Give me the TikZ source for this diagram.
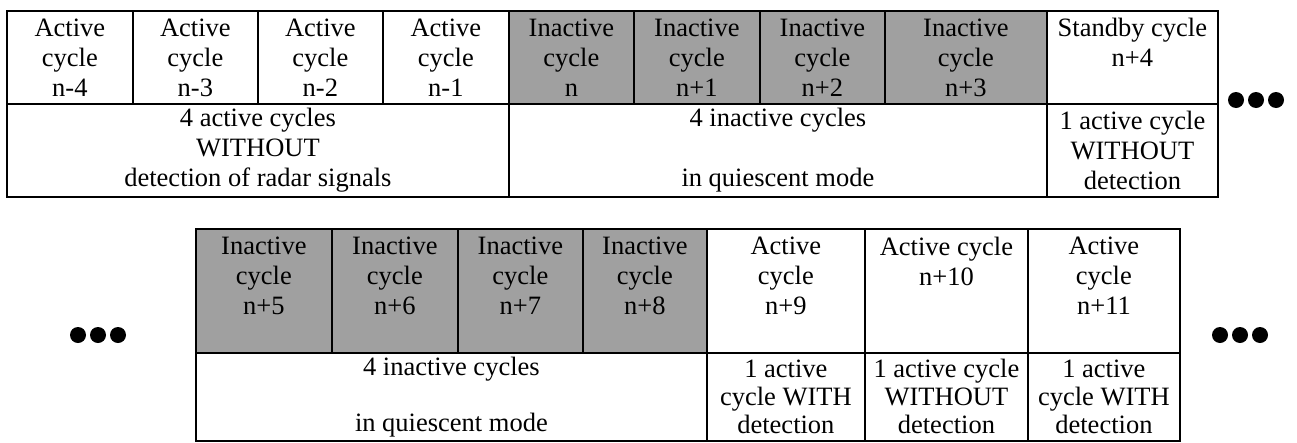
\documentclass[tikz,border=0pt]{standalone}
\usepackage{fontspec}
\setmainfont{Liberation Serif}
\definecolor{idlegray}{RGB}{160,160,160}
\tikzset{
  cell/.style={draw, line width=1.8pt, inner sep=0pt, anchor=north west,
    align=center, font=\fontsize{26.5}{30}\selectfont},
  tight/.style={cell, font=\fontsize{26.5}{28}\selectfont},
  idle/.style={cell, fill=idlegray},
  dot/.style={fill=black}
}
\begin{document}
\begin{tikzpicture}[x=1pt, y=-1pt]
  \useasboundingbox (0,0) rectangle (1297,442);

  % Upper table, cycles n-4 .. n+4
  \node[cell, minimum width=126pt, minimum height=93pt] (a4) at (6,10) {Active\\cycle\\n-4};
  \node[cell, minimum width=125pt, minimum height=93pt] (a3) at (132,10) {Active\\cycle\\n-3};
  \node[cell, minimum width=125pt, minimum height=93pt] (a2) at (257,10) {Active\\cycle\\n-2};
  \node[cell, minimum width=126pt, minimum height=93pt] (a1) at (382,10) {Active\\cycle\\n-1};
  \node[idle, minimum width=125pt, minimum height=93pt] (i0) at (508,10) {Inactive\\cycle\\n};
  \node[idle, minimum width=126pt, minimum height=93pt] (i1) at (633,10) {Inactive\\cycle\\n+1};
  \node[idle, minimum width=125pt, minimum height=93pt] (i2) at (759,10) {Inactive\\cycle\\n+2};
  \node[idle, minimum width=162pt, minimum height=93pt] (i3) at (884,10) {Inactive\\cycle\\n+3};
  \node[cell, minimum width=171pt, minimum height=93pt] (s4) at (1046,10) {Standby cycle\\n+4\\ \mbox{}};

  \node[cell, minimum width=502pt, minimum height=93pt] (nodet) at (6,103) {4 active cycles\\WITHOUT\\detection of radar signals};
  \node[cell, minimum width=538pt, minimum height=93pt] (quiet1) at (508,103) {4 inactive cycles\\ \mbox{}\\in quiescent mode};
  \node[cell, minimum width=171pt, minimum height=93pt] (single1) at (1046,103) {1 active cycle\\WITHOUT\\detection};

  % Lower table, cycles n+5 .. n+11
  \node[idle, minimum width=136pt, minimum height=124pt] (i5) at (195,228) {Inactive\\cycle\\n+5\\ \mbox{}};
  \node[idle, minimum width=126pt, minimum height=124pt] (i6) at (331,228) {Inactive\\cycle\\n+6\\ \mbox{}};
  \node[idle, minimum width=125pt, minimum height=124pt] (i7) at (457,228) {Inactive\\cycle\\n+7\\ \mbox{}};
  \node[idle, minimum width=124pt, minimum height=124pt] (i8) at (582,228) {Inactive\\cycle\\n+8\\ \mbox{}};
  \node[cell, minimum width=158pt, minimum height=124pt] (a9) at (706,228) {Active\\cycle\\n+9\\ \mbox{}};
  \node[cell, minimum width=163pt, minimum height=124pt] (a10) at (864,228) {Active cycle\\n+10\\ \mbox{}\\ \mbox{}};
  \node[cell, minimum width=152pt, minimum height=124pt] (a11) at (1027,228) {Active\\cycle\\n+11\\ \mbox{}};

  \node[tight, minimum width=511pt, minimum height=88pt] (quiet2) at (195,352) {4 inactive cycles\\ \mbox{}\\in quiescent mode};
  \node[tight, minimum width=158pt, minimum height=88pt] (det9) at (706,352) {1 active\\cycle WITH\\detection};
  \node[tight, minimum width=163pt, minimum height=88pt] (det10) at (864,352) {1 active cycle\\WITHOUT\\detection};
  \node[tight, minimum width=152pt, minimum height=88pt] (det11) at (1027,352) {1 active\\cycle WITH\\detection};

  % Continuation dots
  \fill[dot] (1236,100) circle (8pt) (1256,100) circle (8pt) (1276,100) circle (8pt);
  \fill[dot] (78,335) circle (8pt) (98,335) circle (8pt) (118,335) circle (8pt);
  \fill[dot] (1220,335) circle (8pt) (1240,335) circle (8pt) (1260,335) circle (8pt);
\end{tikzpicture}
\end{document}
